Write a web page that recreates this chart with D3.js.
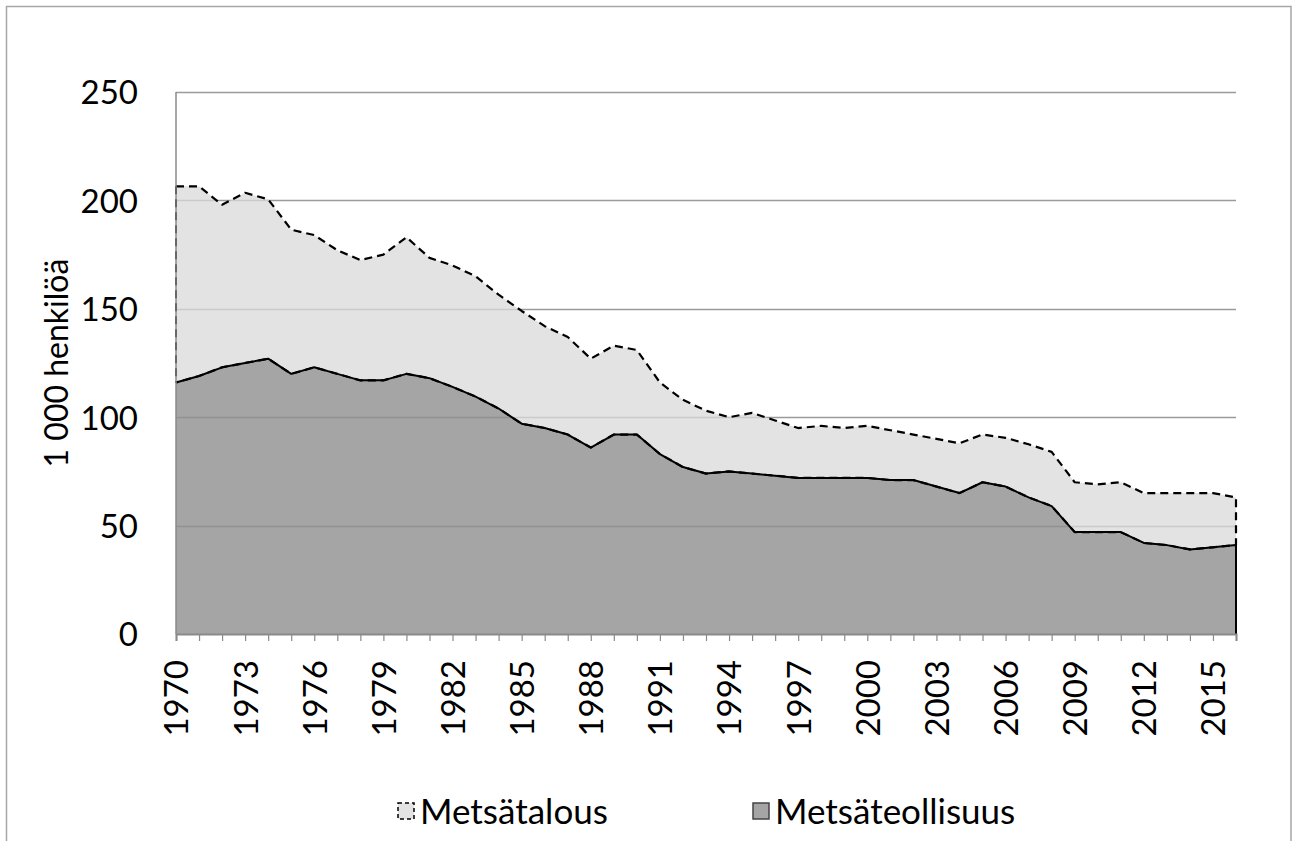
<!DOCTYPE html>
<html>
<head>
<meta charset="utf-8">
<script src="https://cdn.jsdelivr.net/npm/d3@7"></script>
<style>
  html, body { margin: 0; padding: 0; background: #fff; }
  svg { display: block; }
  text { font-family: Lato, "Open Sans", sans-serif; fill: #000; }
</style>
</head>
<body>
<svg id="chart" width="1292" height="841"></svg>
<script>
// ---- Data ----
const years = d3.range(1970, 2017);
const seriesNames = ["Metsäteollisuus", "Metsätalous"];
const metsateollisuus = [116, 119, 123, 125, 127, 120, 123, 120, 117, 117,
  120, 118, 114, 109.5, 104, 97, 95, 92, 86, 92,
  92, 83, 77, 74, 75, 74, 73, 72, 72, 72,
  72, 71, 71, 68, 65, 70, 68, 63, 59, 47,
  47, 47, 42, 41, 39, 40, 41];
const metsatalous = [90.5, 87.5, 75, 78.5, 73.5, 66.5, 61, 57, 55.5, 58,
  63, 55.5, 56, 55.5, 52.5, 52, 47, 45, 41, 41,
  39, 33, 31, 29, 25, 28, 25.5, 23, 24, 23,
  24, 23, 21, 22, 23, 22, 22.5, 24.5, 25, 23,
  22, 23, 23, 24, 26, 25, 22];
const yTicks = [0, 50, 100, 150, 200, 250];
const xLabelYears = d3.range(1970, 2017, 3);
const yTitle = "1 000 henkilöä";

// ---- Layout ----
const plot = { left: 176, right: 1236, top: 92, bottom: 634 };
const svg = d3.select("#chart");

// chart border
svg.append("rect")
  .attr("x", 6.5).attr("y", 6.5)
  .attr("width", 1284.5).attr("height", 900)
  .attr("fill", "none").attr("stroke", "#a6a6a6").attr("stroke-width", 1.5);

const x = d3.scaleLinear().domain([1970, 2016]).range([plot.left, plot.right]);
const y = d3.scaleLinear().domain([0, 250]).range([plot.bottom, plot.top]);

const table = years.map((yr, i) => ({ year: yr, "Metsäteollisuus": metsateollisuus[i], "Metsätalous": metsatalous[i] }));
const stacked = d3.stack().keys(seriesNames)(table);

// gridlines (below semi-transparent areas)
svg.append("g")
  .selectAll("line").data(yTicks.filter(d => d > 0)).join("line")
  .attr("x1", plot.left).attr("x2", plot.right)
  .attr("y1", d => Math.round(y(d)) + 0.5).attr("y2", d => Math.round(y(d)) + 0.5)
  .attr("stroke", "#9a9a9a").attr("stroke-width", 1.5);

const area = d3.area().x(d => x(d.data.year)).y0(d => y(d[0])).y1(d => y(d[1]));

// lower area: Metsäteollisuus
svg.append("path").datum(stacked[0])
  .attr("d", area)
  .attr("fill", "#8f8f8f").attr("fill-opacity", 0.8).attr("stroke", "none");

// upper area: Metsätalous
svg.append("path").datum(stacked[1])
  .attr("d", area)
  .attr("fill", "#d9d9d9").attr("fill-opacity", 0.75).attr("stroke", "none");

// lower outline (solid): top edge + right edge down to 0
const low = stacked[0];
const lowPts = low.map(d => [x(d.data.year), y(d[1])]);
lowPts.push([x(2016), y(0)]);
svg.append("path")
  .attr("d", d3.line()(lowPts))
  .attr("fill", "none").attr("stroke", "#000").attr("stroke-width", 2).attr("stroke-linejoin", "round");

// upper outline (dashed): top, right edge, bottom along lower series
const up = stacked[1];
const upPts = up.map(d => [x(d.data.year), y(d[1])]);
for (let i = up.length - 1; i >= 0; i--) upPts.push([x(up[i].data.year), y(up[i][0])]);
svg.append("path")
  .attr("d", d3.line()(upPts))
  .attr("fill", "none").attr("stroke", "#000").attr("stroke-width", 2.2)
  .attr("stroke-dasharray", "8,5").attr("stroke-linejoin", "round");

// left edge dashed
svg.append("line")
  .attr("x1", x(1970)).attr("x2", x(1970))
  .attr("y1", y(up[0][1])).attr("y2", y(up[0][0]))
  .attr("stroke", "#000").attr("stroke-width", 2).attr("stroke-dasharray", "8,5");

// ---- Axes ----
svg.append("line")
  .attr("x1", plot.left).attr("x2", plot.left)
  .attr("y1", plot.top).attr("y2", plot.bottom)
  .attr("stroke", "#8a8a8a").attr("stroke-width", 1.5);

const yAxis = svg.append("g")
  .attr("transform", `translate(${plot.left},0)`)
  .call(d3.axisLeft(y).tickValues(yTicks).tickSize(0).tickPadding(38).tickFormat(d3.format("d")));
yAxis.select(".domain").remove();
yAxis.selectAll("text")
  .style("font-family", "Lato, 'Open Sans', sans-serif")
  .attr("font-size", 33).attr("dy", "0.36em");

const xAxis = svg.append("g")
  .attr("transform", `translate(0,${plot.bottom})`)
  .call(d3.axisBottom(x).tickValues(years).tickSize(7)
    .tickFormat(d => xLabelYears.includes(d) ? String(d) : ""));
xAxis.select(".domain")
  .attr("stroke", "#8a8a8a").attr("stroke-width", 2);
xAxis.selectAll(".tick line").attr("stroke", "#8a8a8a").attr("stroke-width", 1.2);
xAxis.selectAll(".tick text")
  .style("font-family", "Lato, 'Open Sans', sans-serif")
  .attr("font-size", 33)
  .attr("text-anchor", "end")
  .attr("transform", "rotate(-90)")
  .attr("x", -26).attr("y", 0).attr("dy", "0.36em");

// Y title
svg.append("text")
  .attr("transform", `translate(56,${(plot.top + plot.bottom) / 2}) rotate(-90)`)
  .attr("text-anchor", "middle").attr("dy", "0.36em")
  .attr("font-size", 32)
  .text(yTitle);

// ---- Legend ----
const legend = svg.append("g");
const legendItems = [
  { name: "Metsätalous", x: 398, fill: "#e3e3e3", dash: "4,3" },
  { name: "Metsäteollisuus", x: 753, fill: "#a5a5a5", dash: null }
];
legendItems.forEach(it => {
  legend.append("rect")
    .attr("x", it.x).attr("y", 803).attr("width", 16).attr("height", 16)
    .attr("fill", it.fill).attr("stroke", it.dash ? "#000" : "#444")
    .attr("stroke-width", 1.5)
    .attr("stroke-dasharray", it.dash);
  legend.append("text")
    .attr("x", it.x + 22).attr("y", 811).attr("dy", "0.36em")
    .attr("font-size", 35)
    .text(it.name);
});
</script>
</body>
</html>
